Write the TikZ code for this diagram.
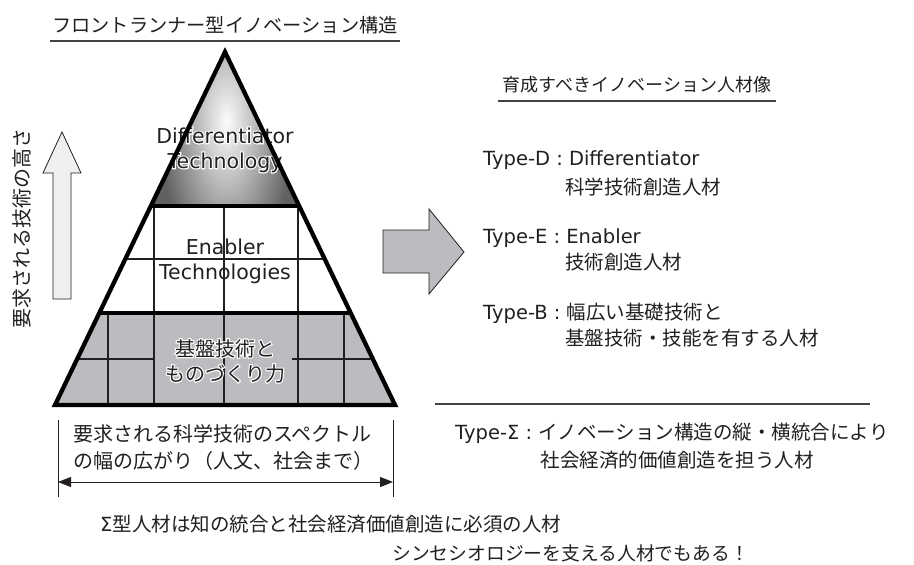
\documentclass[tikz,border=0pt]{standalone}
\usepackage{fontspec}
\setmainfont{Noto Sans CJK JP}
\newfontfamily\lat{DejaVu Sans}
\newfontfamily\lathalo[FakeBold=11]{DejaVu Sans}
\newfontfamily\jphalo[FakeBold=11]{Noto Sans CJK JP}
\usetikzlibrary{arrows.meta,calc}
\definecolor{ink}{HTML}{231F20}
\definecolor{pgray}{HTML}{BBBCBF}
\definecolor{lgray}{HTML}{EFEFEF}
\tikzset{
  jp/.style={font=\fontsize{19.5}{25}\selectfont, text=ink, inner sep=0pt},
  jpl/.style={jp, anchor=west},
  en/.style={font=\lat\fontsize{20.5}{25}\selectfont, text=ink, inner sep=0pt, align=center},
  enhalo/.style={font=\lathalo\fontsize{20.5}{25}\selectfont, text=white, inner sep=0pt, align=center},
  pjp/.style={font=\fontsize{20}{25}\selectfont, text=ink, inner sep=0pt, align=center},
  pjphalo/.style={font=\jphalo\fontsize{20}{25}\selectfont, text=white, inner sep=0pt, align=center},
  thickline/.style={line width=4.3pt, black},
  gridline/.style={line width=1.2pt, ink},
  rule/.style={line width=1.3pt, ink!85},
  blockarrow/.style={line width=0.8pt, ink},
}
\begin{document}
\begin{tikzpicture}[x=1pt,y=-1pt]
\useasboundingbox (0,0) rectangle (914,565);
\fill[white] (0,0) rectangle (914,565);

% pyramid coordinates
\coordinate (A) at (225,52);
\coordinate (BL) at (55,405);
\coordinate (BR) at (395,405);
\coordinate (L1) at (150.8,206);
\coordinate (R1) at (299.2,206);
\coordinate (L2) at (99.3,313);
\coordinate (R2) at (350.7,313);

% fills
\fill[pgray] (L2) -- (R2) -- (BR) -- (BL) -- cycle;
\begin{scope}
  \clip (A) -- (R1) -- (L1) -- cycle;
  \fill[black!62] (140,40) rectangle (310,215);
  \foreach \i in {1,...,40}{
    \pgfmathsetmacro\fr{1-\i/40}
    \pgfmathsetmacro\cc{62*\fr}
    \fill[black!\cc] (227,122) ellipse [x radius={68*\fr}, y radius={150*\fr}];
  }
\end{scope}

% grid
\begin{scope}
  \clip (A) -- (BR) -- (BL) -- cycle;
  \draw[gridline] (154,206) -- (154,405);
  \draw[gridline] (224,206) -- (224,405);
  \draw[gridline] (298,206) -- (298,405);
  \draw[gridline] (108,313) -- (108,405);
  \draw[gridline] (344,313) -- (344,405);
  \draw[gridline] (100,259) -- (350,259);
  \draw[gridline] (60,359) -- (154,359);
  \draw[gridline] (292,359) -- (390,359);
\end{scope}

% pyramid texts
\node[enhalo] (dhalo) at (225,150) {Differentiator\\Technology};
\node[en] (dtext) at (225,150) {Differentiator\\Technology};
\node[en] (etext) at (225,261) {Enabler\\Technologies};
\node[pjphalo] (bhalo) at (225,361) {基盤技術と\\ものづくり力};
\node[pjp] (btext) at (225,361) {基盤技術と\\ものづくり力};

% outline
\draw[thickline] (A) -- (BR) -- (BL) -- cycle;
\draw[thickline] (L1) -- (R1);
\draw[thickline] (L2) -- (R2);

% left title
\node[jp, font=\fontsize{19.2}{24}\selectfont] (ltitle) at (225,25) {フロントランナー型イノベーション構造};
\draw[rule] (50,41) -- (400,41);

% vertical label and arrow
\node[jp, rotate=90, font=\fontsize{20}{24}\selectfont] (vlabel) at (22,228) {要求される技術の高さ};
\draw[blockarrow, fill=lgray] (53,299) -- (53,173) -- (43,173) -- (62,132) -- (81,173) -- (71,173) -- (71,299) -- cycle;

% dimension
\coordinate (dt1) at (58,420); \coordinate (db1) at (58,497);
\coordinate (dt2) at (393,420); \coordinate (db2) at (393,497);
\draw[line width=1pt, ink] (dt1) -- (db1);
\draw[line width=1pt, ink] (dt2) -- (db2);
\coordinate (dl) at (58,482); \coordinate (dr) at (393,482);
\draw[line width=1pt, ink, {Triangle[length=13pt,width=10pt]}-{Triangle[length=13pt,width=10pt]}] (dl) -- (dr);
\node[jp, anchor=north west, align=left, font=\fontsize{20}{27}\selectfont] (spec) at (73,424) {要求される科学技術のスペクトル\\の幅の広がり（人文、社会まで）};

% big arrow
\draw[blockarrow, fill=pgray] (383,230) -- (429,230) -- (429,209) -- (464,252) -- (429,294) -- (429,273) -- (383,273) -- cycle;

% right title
\node[jp, font=\fontsize{18}{22}\selectfont] (rtitle) at (637,85) {育成すべきイノベーション人材像};
\draw[rule] (498,101) -- (776,101);

% types
\node[jpl] (td1) at (483,160) {{\lat Type-D : Differentiator}};
\node[jpl] (td2) at (565,187) {科学技術創造人材};
\node[jpl] (te1) at (483,238) {{\lat Type-E : Enabler}};
\node[jpl] (te2) at (565,262) {技術創造人材};
\node[jpl] (tb1) at (483,313) {{\lat Type-B : }幅広い基礎技術と};
\node[jpl] (tb2) at (565,338) {基盤技術・技能を有する人材};

\draw[rule] (435,404) -- (870,404);
\node[jpl] (ts1) at (455,433) {{\lat Type-Σ : }イノベーション構造の縦・横統合により};
\node[jp] (ts2) at (677,460) {社会経済的価値創造を担う人材};

% bottom
\node[jpl] (sig) at (100,524) {{\lat Σ}型人材は知の統合と社会経済価値創造に必須の人材};
\node[jpl, font=\fontsize{18.8}{22}\selectfont] (syn) at (392,553) {シンセシオロジーを支える人材でもある！};
\end{tikzpicture}
\end{document}
